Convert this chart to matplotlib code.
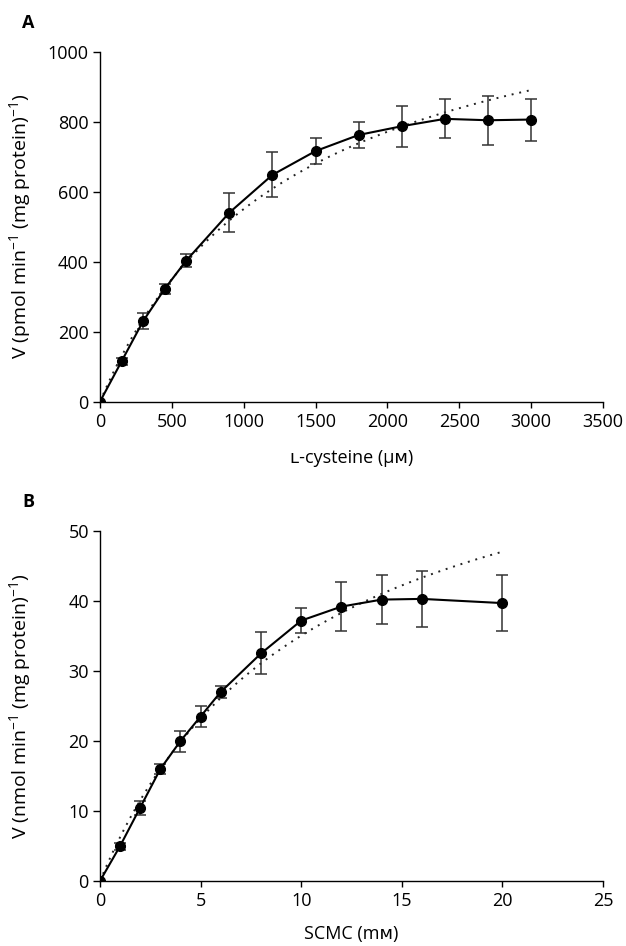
import numpy as np
import matplotlib.pyplot as plt

plt.rcParams['font.family'] = ['Open Sans', 'DejaVu Sans']
plt.rcParams['mathtext.default'] = 'regular'

# panel A: L-cysteine (uM) vs V (pmol/min/mg protein)
cys = [0, 150, 300, 450, 600, 900, 1200, 1500, 1800, 2100, 2400, 2700, 3000]
va = [0, 115, 230, 322, 403, 540, 648, 716, 762, 787, 808, 804, 806]
ea = [0, 10, 22, 15, 18, 55, 64, 36, 38, 58, 56, 70, 60]
vmax_a, km_a = 1288, 1340   # fitted Michaelis-Menten (dotted)

# panel B: SCMC (mM) vs V (nmol/min/mg protein)
scmc = [0, 1, 2, 3, 4, 5, 6, 8, 10, 12, 14, 16, 20]
vb = [0, 5, 10.5, 16, 20, 23.5, 27, 32.5, 37.2, 39.2, 40.2, 40.3, 39.7]
eb = [0, 0.5, 1.0, 0.7, 1.5, 1.5, 0.8, 3.0, 1.8, 3.5, 3.5, 4.0, 4.0]
vmax_b, km_b = 71.5, 10.4


def panel(ax, x, y, err, vmax, km, xmax, xstep, ymax, ystep, xlabel, ylabel, letter, xl_y):
    xf = np.linspace(0, x[-1], 200)
    ax.plot(xf, vmax * xf / (km + xf), color='#222222', lw=1.4,
            linestyle=(0, (1, 3)), zorder=2)
    ax.errorbar(x, y, yerr=err, fmt='-o', color='black', ecolor='#333333',
                elinewidth=1.1, capsize=4, capthick=1.1, markersize=7,
                lw=1.5, zorder=3)
    ax.set_xlim(0, xmax)
    ax.set_ylim(0, ymax)
    ax.set_xticks(np.arange(0, xmax + 1e-9, xstep))
    ax.set_yticks(np.arange(0, ymax + 1e-9, ystep))
    for s in ['top', 'right']:
        ax.spines[s].set_visible(False)
    for s in ['left', 'bottom']:
        ax.spines[s].set_linewidth(1.0)
    ax.tick_params(axis='y', direction='out', length=5, width=1, labelsize=13, pad=3)
    ax.tick_params(axis='x', direction='out', length=4, width=1, labelsize=13, pad=4)
    for c in (ax.get_xticklabels() + ax.get_yticklabels()):
        c.set_clip_on(False)
    ax.set_xlabel(xlabel, fontsize=13)
    ax.xaxis.set_label_coords(0.5, xl_y)
    ax.set_ylabel(ylabel, fontsize=14)
    ax.yaxis.set_label_coords(-0.133, 0.5)
    ax.text(-0.143, 1.082, letter, transform=ax.transAxes, fontsize=13,
            fontweight='bold', ha='center', va='center')


fig = plt.figure(figsize=(6.26, 9.46), dpi=100)
ax1 = fig.add_axes([0.1597, 0.5754, 0.8036, 0.37])
ax2 = fig.add_axes([0.1597, 0.0687, 0.8036, 0.37])

panel(ax1, cys, va, ea, vmax_a, km_a, 3500, 500, 1000, 200,
      'ʟ-cysteine (μᴍ)', 'V (pmol min$^{-1}$ (mg protein)$^{-1}$)', 'A', -0.135)
panel(ax2, scmc, vb, eb, vmax_b, km_b, 25, 5, 50, 10,
      'SCMC (mᴍ)', 'V (nmol min$^{-1}$ (mg protein)$^{-1}$)', 'B', -0.126)

fig.savefig('out.png', dpi=100)
